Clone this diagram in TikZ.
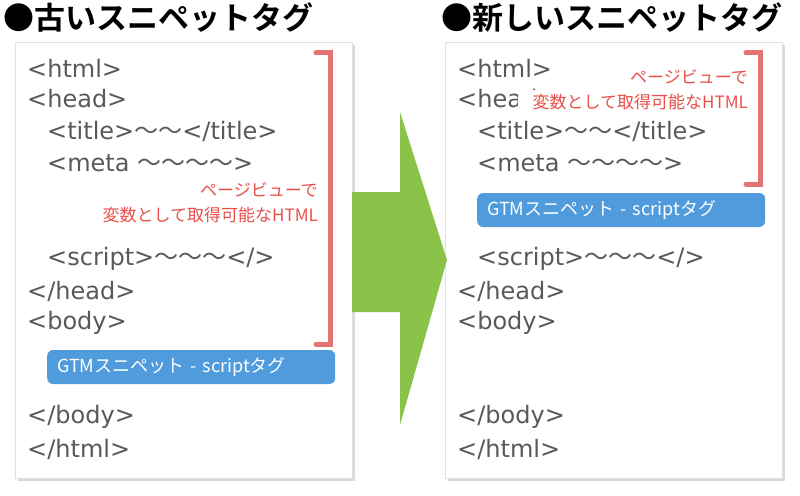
\documentclass[tikz,border=0pt]{standalone}
\usepackage{fontspec}
\setmainfont{Noto Sans CJK JP}
\newfontfamily\jpb{Noto Sans CJK JP Bold}
\newfontfamily\codefont{DejaVu Sans}
\newfontfamily\cjkf{Noto Sans CJK JP}
\newcommand{\wv}{{\cjkf ～}}
\definecolor{codegray}{HTML}{595959}
\definecolor{redb}{HTML}{E57373}
\definecolor{redt}{HTML}{E8504A}
\definecolor{blueb}{HTML}{4F9BDC}
\definecolor{greenA}{HTML}{8BC34A}
\begin{document}
\begin{tikzpicture}[x=1pt,y=-1pt,
  code/.style={anchor=west,text=codegray,font=\codefont\fontsize{24}{24}\selectfont,inner sep=0},
  ttl/.style={anchor=west,font=\jpb\fontsize{31}{31}\selectfont,inner sep=0},
  panel/.style={fill=white,draw=black!12,line width=0.6pt},
  note/.style={anchor=east,align=right,text=redt,font=\fontsize{17}{25}\selectfont,inner sep=0},
  gtm/.style={fill=blueb,rounded corners=6pt,text=white,font=\fontsize{18}{18}\selectfont,anchor=west,inner xsep=10pt,minimum height=34pt,text width=268pt},
  brk/.style={draw=redb,line width=5pt,line cap=round}]
\useasboundingbox (0,0) rectangle (800,495);
% shadows
\fill[black!15] (18,45) rectangle (355,481);
\fill[black!15] (448,45) rectangle (785,481);
\node[panel,minimum width=337pt,minimum height=436pt,anchor=north west,inner sep=0] (pl) at (15,42) {};
\node[panel,minimum width=337pt,minimum height=436pt,anchor=north west,inner sep=0] (pr) at (445,42) {};
% arrow
\fill[greenA] (352,192) -- (400,192) -- (400,112) -- (447,260) -- (400,425) -- (400,312) -- (352,312) -- cycle;
% titles
\node[ttl] (t1) at (3,18) {●古いスニペットタグ};
\node[ttl] (t2) at (441,18) {●新しいスニペットタグ};
% left code
\node[code] (l1) at (27,68) {<html>};
\node[code] (l2) at (27,99) {<head>};
\node[code] (l3) at (47,131) {<title>\wv\wv</title>};
\node[code] (l4) at (47,163) {<meta \wv\wv\wv\wv>};
\node[code] (l5) at (47,259) {<script>\wv\wv\wv</>};
\node[code] (l6) at (27,291) {</head>};
\node[code] (l7) at (27,323) {<body>};
\node[code] (l8) at (27,417) {</body>};
\node[code] (l9) at (27,449) {</html>};
\draw[brk] (316,53) -- (330,53) -- (330,344) -- (316,344);
\node[note] (n1) at (318,203) {ページビューで\\変数として取得可能なHTML};
\node[gtm] (g1) at (47,367) {GTMスニペット - scriptタグ};
% right code
\node[code] (r1) at (457,68) {<html>};
\node[code] (r2) at (457,99) {<head>};
\node[code] (r3) at (477,131) {<title>\wv\wv</title>};
\node[code] (r4) at (477,163) {<meta \wv\wv\wv\wv>};
\node[code] (r5) at (477,259) {<script>\wv\wv\wv</>};
\node[code] (r6) at (457,291) {</head>};
\node[code] (r7) at (457,323) {<body>};
\node[code] (r8) at (457,417) {</body>};
\node[code] (r9) at (457,449) {</html>};
\fill[white] (518,90) rectangle (752,114);
\draw[brk] (746,53) -- (760,53) -- (760,184) -- (746,184);
\node[note] (n2) at (748,90) {ページビューで\\変数として取得可能なHTML};
\node[gtm] (g2) at (477,210) {GTMスニペット - scriptタグ};
\end{tikzpicture}
\end{document}
